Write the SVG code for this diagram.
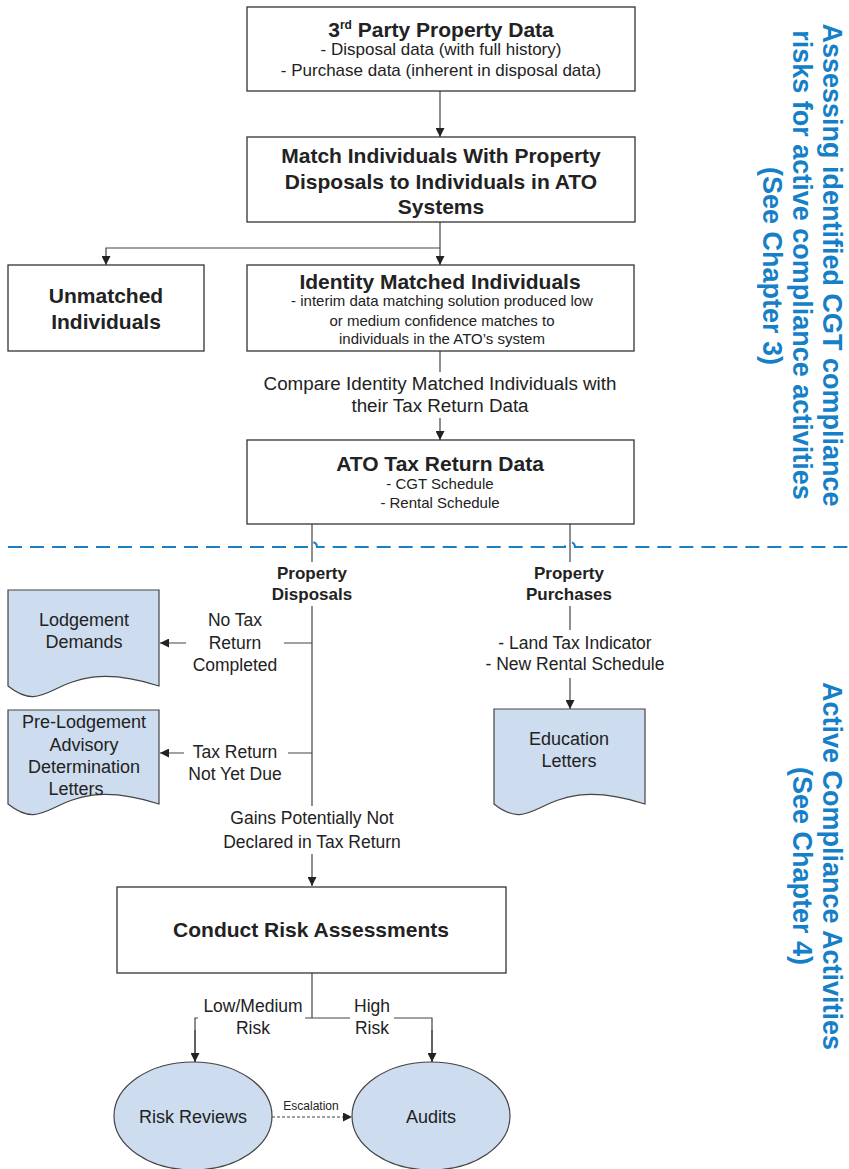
<svg xmlns="http://www.w3.org/2000/svg" width="849" height="1169" viewBox="0 0 849 1169">
<style>
text{font-family:"Liberation Sans",Arial,sans-serif;fill:#222;text-anchor:middle}
.b{font-weight:bold;font-size:21px}
.s{font-size:17px}
.s15{font-size:15px}
.l{font-size:17.5px}
.l2{font-size:18.8px}
.lb{font-size:17px;font-weight:bold}
.d{font-size:18px}
.e{font-size:12px}
.box{fill:#fff;stroke:#333;stroke-width:1.3}
.doc{fill:#cddcee;stroke:#444;stroke-width:1.2}
.c{fill:none;stroke:#444;stroke-width:1.2}
.bg{fill:#fff;stroke:none}
.blue{font-size:27px;font-weight:bold;fill:#1580c8}
</style>
<defs>
<marker id="ar" viewBox="0 0 10 10" refX="10" refY="5" markerWidth="9" markerHeight="9" markerUnits="userSpaceOnUse" orient="auto">
<path d="M0,0 L10,5 L0,10 Z" fill="#222"/>
</marker>
</defs>

<g id="connectors">
<line class="c" x1="440" y1="91" x2="440" y2="137" marker-end="url(#ar)"/>
<line class="c" x1="440" y1="222" x2="440" y2="265" marker-end="url(#ar)"/>
<polyline class="c" points="440,248 106,248 106,265" marker-end="url(#ar)"/>
<line class="c" x1="440" y1="351" x2="440" y2="440" marker-end="url(#ar)"/>
<line class="c" x1="312" y1="524" x2="312" y2="886" marker-end="url(#ar)"/>
<line class="c" x1="570" y1="524" x2="570" y2="709" marker-end="url(#ar)"/>
<line class="c" x1="312" y1="643" x2="160" y2="643" marker-end="url(#ar)"/>
<line class="c" x1="312" y1="753" x2="160" y2="753" marker-end="url(#ar)"/>
<line class="c" x1="312" y1="972" x2="312" y2="1018"/>
<polyline class="c" points="195,1062 195,1018 432,1018 432,1062"/>
<line class="c" x1="195" y1="1030" x2="195" y2="1062" marker-end="url(#ar)"/>
<line class="c" x1="432" y1="1030" x2="432" y2="1062" marker-end="url(#ar)"/>
<line class="c" x1="272" y1="1117" x2="352" y2="1117" stroke-dasharray="3,2" marker-end="url(#ar)"/>
</g>

<path d="M8,547 H307 a5,5 0 0 1 10,0 H565 a5,5 0 0 1 10,0 H849" fill="none" stroke="#1b7fc4" stroke-width="2" stroke-dasharray="14,8"/>

<g id="labels">
<rect class="bg" x="263" y="372" width="355" height="46"/>
<text class="l2" x="440" y="390">Compare Identity Matched Individuals with</text>
<text class="l2" x="440" y="412">their Tax Return Data</text>
<rect class="bg" x="267" y="562" width="90" height="44"/>
<text class="lb" x="312" y="579">Property</text>
<text class="lb" x="312" y="600">Disposals</text>
<rect class="bg" x="522" y="562" width="96" height="44"/>
<text class="lb" x="569" y="579">Property</text>
<text class="lb" x="569" y="600">Purchases</text>
<rect class="bg" x="186" y="607" width="98" height="70"/>
<text class="l" x="235" y="626">No Tax</text>
<text class="l" x="235" y="649">Return</text>
<text class="l" x="235" y="671">Completed</text>
<rect class="bg" x="184" y="738" width="104" height="48"/>
<text class="l" x="235" y="758">Tax Return</text>
<text class="l" x="235" y="780">Not Yet Due</text>
<rect class="bg" x="474" y="630" width="192" height="48"/>
<text class="l" x="575" y="649">- Land Tax Indicator</text>
<text class="l" x="575" y="670">- New Rental Schedule</text>
<rect class="bg" x="214" y="806" width="196" height="48"/>
<text class="l" x="312" y="824">Gains Potentially Not</text>
<text class="l" x="312" y="848">Declared in Tax Return</text>
<rect class="bg" x="198" y="993" width="107" height="47"/>
<text class="l" x="253" y="1012">Low/Medium</text>
<text class="l" x="253" y="1034">Risk</text>
<rect class="bg" x="350" y="993" width="44" height="47"/>
<text class="l" x="372" y="1012">High</text>
<text class="l" x="372" y="1034">Risk</text>
<text class="e" x="311" y="1110">Escalation</text>
</g>

<g id="n-thirdparty">
<rect class="box" x="247" y="7" width="388" height="84"/>
<text class="b" x="441" y="37">3<tspan font-size="12" dy="-8">rd</tspan><tspan dy="8"> Party Property Data</tspan></text>
<text class="s" x="441" y="55">- Disposal data (with full history)</text>
<text class="s" x="441" y="76">- Purchase data (inherent in disposal data)</text>
</g>

<g id="n-match">
<rect class="box" x="247" y="137" width="388" height="85"/>
<text class="b" x="441" y="163">Match Individuals With Property</text>
<text class="b" x="441" y="189">Disposals to Individuals in ATO</text>
<text class="b" x="441" y="214">Systems</text>
</g>

<g id="n-unmatched">
<rect class="box" x="8" y="265" width="196" height="86"/>
<text class="b" x="106" y="303">Unmatched</text>
<text class="b" x="106" y="329">Individuals</text>
</g>

<g id="n-identity">
<rect class="box" x="247" y="265" width="387" height="86"/>
<text class="b" x="440" y="289">Identity Matched Individuals</text>
<text class="s15" x="442" y="306">- interim data matching solution produced low</text>
<text class="s15" x="442" y="326">or medium confidence matches to</text>
<text class="s15" x="442" y="344">individuals in the ATO’s system</text>
</g>

<g id="n-ato">
<rect class="box" x="247" y="440" width="387" height="84"/>
<text class="b" x="440" y="471">ATO Tax Return Data</text>
<text class="s15" x="440" y="489">- CGT Schedule</text>
<text class="s15" x="440" y="508">- Rental Schedule</text>
</g>

<g id="n-lodgement">
<path class="doc" d="M8,590 H159 V686 C53,652 53,722 8,686 Z"/>
<text class="d" x="84" y="626">Lodgement</text>
<text class="d" x="84" y="648">Demands</text>
</g>

<g id="n-prelodgement">
<path class="doc" d="M8,710 H159 V804 C53,770 53,840 8,804 Z"/>
<text class="d" x="84" y="728">Pre-Lodgement</text>
<text class="d" x="84" y="751">Advisory</text>
<text class="d" x="84" y="773">Determination</text>
<text class="d" x="76" y="795">Letters</text>
</g>

<g id="n-education">
<path class="doc" d="M494,709 H645 V804 C539,770 539,840 494,804 Z"/>
<text class="d" x="569" y="745">Education</text>
<text class="d" x="569" y="767">Letters</text>
</g>

<g id="n-conduct">
<rect class="box" x="117" y="887" width="389" height="86"/>
<text class="b" x="311" y="937">Conduct Risk Assessments</text>
</g>

<g id="n-riskreviews">
<ellipse class="doc" cx="193" cy="1116" rx="79" ry="54"/>
<text class="d" x="193" y="1123">Risk Reviews</text>
</g>

<g id="n-audits">
<ellipse class="doc" cx="431" cy="1116" rx="79" ry="54"/>
<text class="d" x="431" y="1123">Audits</text>
</g>

<g id="side-labels">
<text class="blue" transform="translate(823,265) rotate(90)">Assessing identified CGT compliance</text>
<text class="blue" transform="translate(793,265) rotate(90)">risks for active compliance activities</text>
<text class="blue" transform="translate(763,266) rotate(90)">(See Chapter 3)</text>
<text class="blue" transform="translate(823,866) rotate(90)">Active Compliance Activities</text>
<text class="blue" transform="translate(793,866) rotate(90)">(See Chapter 4)</text>
</g>
</svg>
